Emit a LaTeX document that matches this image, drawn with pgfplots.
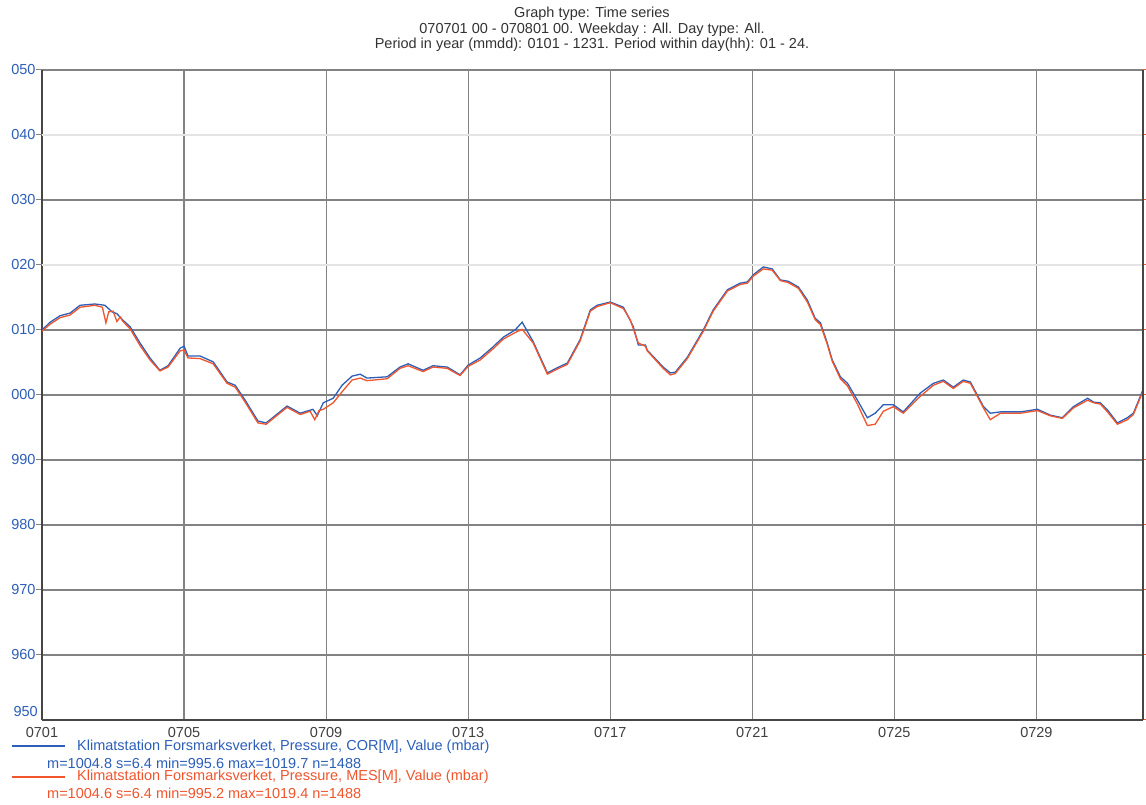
\documentclass[border=0pt]{standalone}
\usepackage{pgfplots}
\pgfplotsset{compat=1.18}
\usepackage{fontspec}
\setmainfont{Liberation Sans}
\definecolor{cblue}{RGB}{45,95,185}
\definecolor{cred}{RGB}{240,85,45}
\definecolor{gridc}{RGB}{130,130,130}
\definecolor{gridl}{RGB}{228,228,228}
\definecolor{axc}{RGB}{70,70,70}
\begin{document}
\begin{tikzpicture}[x=1pt,y=1pt]
\useasboundingbox (0,0) rectangle (1146,805);
\fill[white] (0,0) rectangle (1146,805);
\begin{axis}[
  at={(42pt,85pt)}, anchor=south west,
  scale only axis, width=1101pt, height=650pt,
  xmin=0, xmax=31, ymin=950, ymax=1050,
  axis x line*=bottom,
  axis y line*=left,
  x axis line style={axc, line width=2pt, -},
  y axis line style={axc, line width=1.2pt, -},
  xtick={0,4,8,12,16,20,24,28},
  xticklabels={0701,0705,0709,0713,0717,0721,0725,0729},
  ytick={960,970,980,990,1000,1010,1030,1050},
  yticklabels={960,970,980,990,000,010,030,050},
  extra y ticks={1020,1040},
  extra y tick labels={020,040},
  extra y tick style={grid style={gridl, line width=1.2pt}},
  grid=major,
  grid style={gridc, line width=1.2pt},
  x tick style={draw=none},
  y tick style={gridc, line width=1pt},
  tick align=outside,
  major tick length=6pt,
  /pgf/number format/assume math mode=true,
  ticklabel style={font=\fontsize{14.5}{15.5}\selectfont},
  yticklabel style={cblue, xshift=3pt},
  xticklabel style={black!75, inner sep=0pt, yshift=-1pt},
  clip=true,
]
\addplot[cblue, line width=1.3pt] coordinates {
(0.00,1010.0) (0.23,1011.2) (0.51,1012.2) (0.79,1012.6) (1.07,1013.8) (1.49,1014.0)
(1.77,1013.8) (1.97,1012.8) (2.11,1012.5) (2.28,1011.5) (2.48,1010.5) (2.76,1008.0)
(3.04,1005.7) (3.32,1003.8) (3.55,1004.5) (3.89,1007.2) (4.00,1007.5) (4.11,1006.0)
(4.45,1006.0) (4.82,1005.1) (5.21,1002.0) (5.44,1001.5) (5.72,999.2) (6.08,996.0)
(6.31,995.7) (6.56,996.8) (6.90,998.3) (7.27,997.2) (7.63,997.8) (7.75,996.8)
(7.92,998.8) (8.20,999.5) (8.45,1001.5) (8.73,1002.9) (8.96,1003.2) (9.15,1002.6)
(9.72,1002.8) (10.08,1004.3) (10.31,1004.8) (10.73,1003.8) (11.01,1004.5) (11.41,1004.3)
(11.77,1003.1) (12.00,1004.6) (12.34,1005.7) (12.70,1007.4) (12.99,1008.9) (13.32,1010.0)
(13.52,1011.2) (13.83,1008.2) (14.23,1003.4) (14.51,1004.2) (14.79,1004.9) (15.15,1008.5)
(15.44,1013.1) (15.63,1013.8) (16.00,1014.3) (16.37,1013.5) (16.56,1011.5) (16.65,1010.5)
(16.79,1007.7) (16.99,1007.7) (17.04,1006.9) (17.49,1004.3) (17.69,1003.4) (17.83,1003.5)
(18.17,1005.8) (18.62,1010.0) (18.90,1013.1) (19.30,1016.2) (19.66,1017.2) (19.86,1017.4)
(20.03,1018.5) (20.31,1019.7) (20.56,1019.4) (20.79,1017.7) (21.01,1017.5) (21.30,1016.6)
(21.55,1014.6) (21.77,1011.8) (21.92,1011.1) (22.11,1008.0) (22.25,1005.4) (22.48,1002.8)
(22.68,1001.8) (22.96,999.2) (23.24,996.5) (23.46,997.2) (23.69,998.5) (23.97,998.5)
(24.25,997.4) (24.73,1000.3) (25.10,1001.8) (25.38,1002.3) (25.66,1001.2) (25.94,1002.3)
(26.14,1002.0) (26.51,998.2) (26.70,997.2) (26.99,997.4) (27.55,997.4) (28.03,997.8)
(28.39,996.9) (28.73,996.5) (29.04,998.2) (29.44,999.5) (29.61,998.9) (29.80,998.8)
(30.00,997.7) (30.28,995.7) (30.56,996.5) (30.73,997.2) (31.00,1000.8)
};
\addplot[cred, line width=1.3pt] coordinates {
(0.00,1009.8) (0.23,1010.9) (0.51,1011.9) (0.79,1012.3) (1.07,1013.5) (1.49,1013.8)
(1.70,1013.5) (1.80,1011.1) (1.88,1012.8) (2.00,1012.9) (2.11,1011.3) (2.20,1012.0)
(2.28,1011.3) (2.48,1010.2) (2.76,1007.6) (3.04,1005.4) (3.32,1003.7) (3.55,1004.3)
(3.89,1006.8) (4.00,1006.9) (4.11,1005.7) (4.45,1005.6) (4.82,1004.8) (5.21,1001.8)
(5.44,1001.2) (5.72,998.9) (6.08,995.7) (6.31,995.5) (6.56,996.6) (6.90,998.1)
(7.27,997.0) (7.55,997.5) (7.68,996.2) (7.80,997.6) (7.92,997.8) (8.20,998.8)
(8.45,1000.5) (8.73,1002.3) (8.96,1002.6) (9.15,1002.2) (9.72,1002.5) (10.08,1004.1)
(10.31,1004.5) (10.73,1003.6) (11.01,1004.3) (11.41,1004.1) (11.77,1003.0) (12.00,1004.4)
(12.34,1005.4) (12.70,1007.1) (12.99,1008.6) (13.32,1009.6) (13.52,1010.1) (13.83,1008.0)
(14.23,1003.2) (14.51,1004.0) (14.79,1004.7) (15.15,1008.3) (15.44,1012.9) (15.63,1013.6)
(16.00,1014.2) (16.37,1013.3) (16.56,1011.6) (16.79,1008.0) (16.99,1007.5) (17.04,1006.8)
(17.49,1004.1) (17.69,1003.1) (17.83,1003.3) (18.17,1005.6) (18.62,1009.8) (18.90,1012.9)
(19.30,1016.0) (19.66,1017.0) (19.86,1017.2) (20.03,1018.3) (20.31,1019.4) (20.56,1019.2)
(20.79,1017.6) (21.01,1017.3) (21.30,1016.4) (21.55,1014.3) (21.77,1011.6) (21.92,1010.8)
(22.11,1007.8) (22.25,1005.2) (22.48,1002.5) (22.68,1001.4) (22.96,998.6) (23.24,995.3)
(23.46,995.5) (23.69,997.5) (23.97,998.2) (24.25,997.2) (24.73,999.8) (25.10,1001.5)
(25.38,1002.1) (25.66,1001.0) (25.94,1002.1) (26.14,1001.8) (26.51,998.0) (26.70,996.2)
(26.99,997.2) (27.55,997.2) (28.03,997.6) (28.39,996.8) (28.73,996.4) (29.04,998.0)
(29.44,999.2) (29.61,998.8) (29.80,998.6) (30.00,997.4) (30.28,995.5) (30.56,996.2)
(30.73,997.0) (31.00,1000.6)
};
\end{axis}
\begin{axis}[
  at={(42pt,85pt)}, anchor=south west,
  scale only axis, width=1101pt, height=650pt,
  xmin=0, xmax=31, ymin=950, ymax=1050,
  axis x line=none,
  axis y line*=right,
  axis line style={axc, line width=1.2pt, -},
  ytick={950,960,...,1050},
  yticklabels={},
  tick align=outside,
  major tick length=4pt,
  y tick style={cred, line width=1pt},
]
\addplot[draw=none] coordinates {(0,950)};
\end{axis}
\node[anchor=east, cblue, font=\fontsize{14.5}{15.5}\selectfont, inner sep=0pt] at (38,93) {950};
\begin{scope}[font=\fontsize{14.5}{15.5}\selectfont, black!80]
\node at (592,791) {Graph type: Time series};
\node at (592,775) {070701 00 - 070801 00. Weekday : All. Day type: All.};
\node at (592,760) {Period in year (mmdd): 0101 - 1231. Period within day(hh): 01 - 24.};
\end{scope}
\begin{scope}[font=\fontsize{14.5}{15.5}\selectfont]
\draw[cblue, line width=1.2pt] (12,59) -- (65,59);
\node[cblue, anchor=west, inner sep=0pt] at (77,58) {Klimatstation Forsmarksverket, Pressure, COR[M], Value (mbar)};
\node[cblue, anchor=west, inner sep=0pt] at (47,42) {m=1004.8 s=6.4 min=995.6 max=1019.7 n=1488};
\draw[cred, line width=1.2pt] (12,28) -- (65,28);
\node[cred, anchor=west, inner sep=0pt] at (77,28) {Klimatstation Forsmarksverket, Pressure, MES[M], Value (mbar)};
\node[cred, anchor=west, inner sep=0pt] at (47,12) {m=1004.6 s=6.4 min=995.2 max=1019.4 n=1488};
\end{scope}
\end{tikzpicture}
\end{document}
